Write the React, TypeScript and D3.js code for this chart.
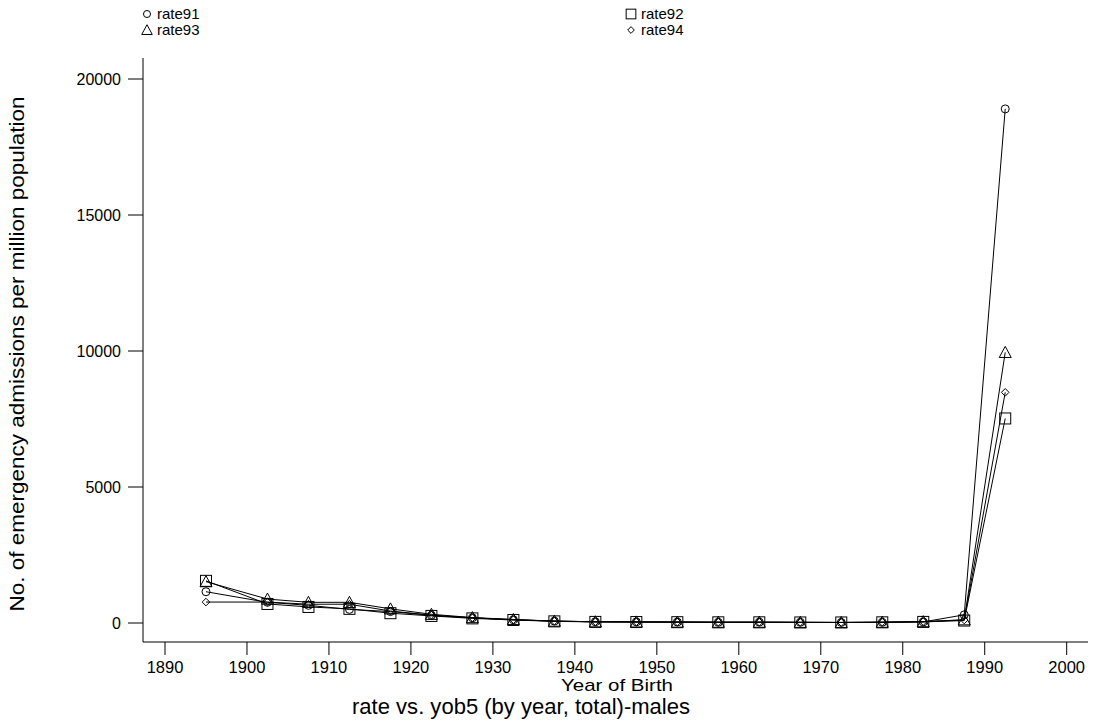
import React from "react";
import * as d3 from "d3";

const years = [1895, 1902.5, 1907.5, 1912.5, 1917.5, 1922.5, 1927.5, 1932.5, 1937.5, 1942.5, 1947.5, 1952.5, 1957.5, 1962.5, 1967.5, 1972.5, 1977.5, 1982.5, 1987.5, 1992.5];
const rate91 = [1150, 760, 650, 500, 420, 280, 190, 120, 70, 45, 40, 35, 25, 30, 25, 20, 25, 40, 300, 18900];
const rate92 = [1550, 700, 590, 520, 360, 260, 170, 110, 60, 40, 35, 30, 25, 25, 20, 20, 25, 40, 90, 7520];
const rate93 = [1520, 880, 760, 760, 520, 320, 200, 130, 70, 45, 40, 35, 30, 30, 25, 20, 30, 50, 120, 9950];
const rate94 = [770, 770, 690, 690, 440, 290, 190, 120, 70, 45, 40, 35, 30, 30, 25, 20, 30, 50, 110, 8480];
const xTicks = [1890, 1900, 1910, 1920, 1930, 1940, 1950, 1960, 1970, 1980, 1990, 2000];
const yTicks = [0, 5000, 10000, 15000, 20000];

const seriesNames = ["rate91", "rate92", "rate93", "rate94"];
const seriesValues = [rate91, rate92, rate93, rate94];
const seriesSymbols = ["circle", "square", "triangle", "diamond"];

const FONT = "'Liberation Sans', Arial, sans-serif";

function Marker({ kind, x, y, scale = 1 }: { kind: string; x: number; y: number; scale?: number }) {
  const common = { fill: "none", stroke: "#000", strokeWidth: 1 } as any;
  if (kind === "circle") return <circle cx={x} cy={y} r={4 * scale} {...common} />;
  if (kind === "square") {
    const s = 5.5 * scale;
    return <rect x={x - s} y={y - s} width={2 * s} height={2 * s} {...common} />;
  }
  if (kind === "triangle") {
    const s = 6 * scale;
    return <path d={`M${x},${y - s}L${x + s},${y + s * 0.85}L${x - s},${y + s * 0.85}Z`} {...common} />;
  }
  const s = 3.8 * scale;
  return <path d={`M${x},${y - s}L${x + s},${y}L${x},${y + s}L${x - s},${y}Z`} {...common} />;
}

export default function App() {
  const W = 1095, H = 725;
  const x0 = 143, x1 = 1088, yAxisTop = 58, xAxisY = 642;
  const x = d3.scaleLinear().domain([1890, 2000]).range([165, 1066.7]);
  const y = d3.scaleLinear().domain([0, 20000]).range([623, 79]);
  const line = d3.line<number>().x((_, i) => x(years[i])).y((v) => y(v));

  const legend = [
    { name: seriesNames[0], sym: seriesSymbols[0], lx: 147, ly: 14 },
    { name: seriesNames[1], sym: seriesSymbols[1], lx: 631, ly: 14 },
    { name: seriesNames[2], sym: seriesSymbols[2], lx: 147, ly: 30 },
    { name: seriesNames[3], sym: seriesSymbols[3], lx: 631, ly: 30 },
  ];

  return (
    <svg width={W} height={H} style={{ position: "absolute", left: 0, top: 0, background: "#fff" }} fontFamily={FONT}>
      <rect width={W} height={H} fill="#fff" />
      {legend.map((l) => (
        <g key={l.name}>
          <Marker kind={l.sym} x={l.lx} y={l.ly} scale={0.88} />
          <text x={l.lx + 10} y={l.ly + 5} fontSize={15} fill="#000">{l.name}</text>
        </g>
      ))}
      <line x1={x0} x2={x0} y1={yAxisTop} y2={xAxisY} stroke="#000" strokeWidth={1} />
      <line x1={x0} x2={x1} y1={xAxisY} y2={xAxisY} stroke="#000" strokeWidth={1} />
      {yTicks.map((t) => (
        <g key={t}>
          <line x1={128} x2={x0} y1={y(t)} y2={y(t)} stroke="#000" />
          <text x={121} y={y(t) + 5.5} textAnchor="end" fontSize={16} fill="#000">{t}</text>
        </g>
      ))}
      {xTicks.map((t) => (
        <g key={t}>
          <line x1={x(t)} x2={x(t)} y1={xAxisY} y2={655} stroke="#000" />
          <text x={x(t)} y={673} textAnchor="middle" fontSize={16.5} fill="#000">{t}</text>
        </g>
      ))}
      <text x={617} y={691} textAnchor="middle" fontSize={17} textLength={112} lengthAdjust="spacingAndGlyphs" fill="#000">Year of Birth</text>
      <text x={521} y={714} textAnchor="middle" fontSize={22.5} textLength={338} lengthAdjust="spacingAndGlyphs" fill="#000">rate vs. yob5 (by year, total)-males</text>
      <text transform={`translate(24,354) rotate(-90)`} textAnchor="middle" fontSize={20} textLength={515} lengthAdjust="spacingAndGlyphs" fill="#000">
        No. of emergency admissions per million population
      </text>
      {seriesValues.map((vals, si) => (
        <g key={seriesNames[si]}>
          <path d={line(vals) || ""} fill="none" stroke="#000" strokeWidth={1} />
          {vals.map((v, i) => (
            <Marker key={i} kind={seriesSymbols[si]} x={x(years[i])} y={y(v)} />
          ))}
        </g>
      ))}
    </svg>
  );
}
